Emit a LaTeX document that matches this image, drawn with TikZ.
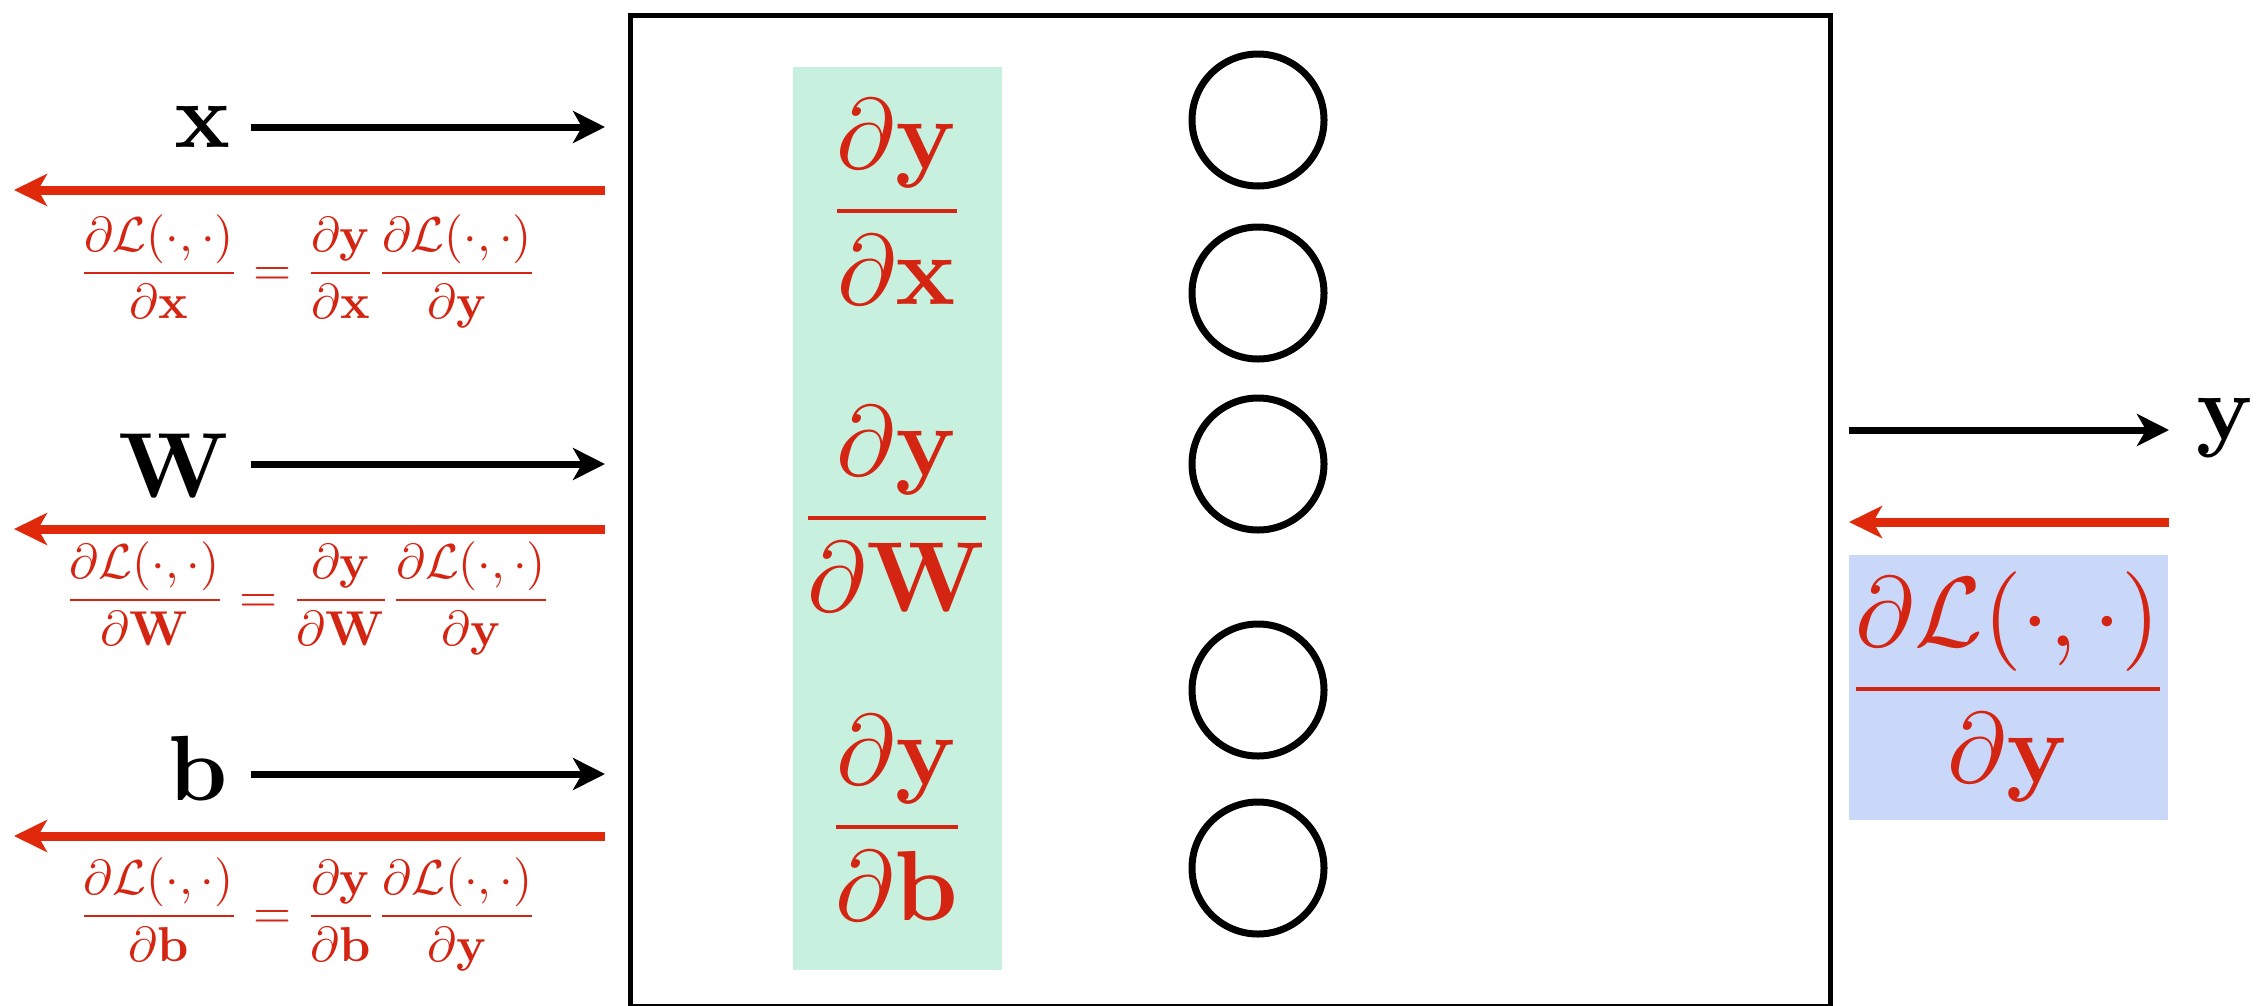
\documentclass[tikz,border=0pt]{standalone}
\usepackage{amsmath}
\usetikzlibrary{arrows.meta}
\definecolor{myred}{RGB}{212,36,18}
\definecolor{arrowred}{RGB}{224,40,10}
\definecolor{mygreen}{RGB}{200,240,223}
\definecolor{myblue}{RGB}{201,215,248}
\begin{document}
\begin{tikzpicture}[x=1bp,y=-1bp,
  lab/.style={inner sep=0pt, scale=9.3},
  bigfrac/.style={inner sep=0pt, text=myred, scale=10.0},
  smallfrac/.style={inner sep=0pt, text=myred, scale=4.92},
  fwd/.style={line width=7bp, -{Stealth[length=32bp,width=32bp,inset=9bp]}},
  bwd/.style={draw=arrowred, line width=9bp, -{Stealth[length=33bp,width=32bp,inset=9bp]}},
  neuron/.style={circle, draw, line width=7bp, minimum size=132bp, inner sep=0pt}]
\useasboundingbox (0,0) rectangle (2260,1005);
% layer box
\node[draw, line width=5bp, minimum width=1200bp, minimum height=991bp, anchor=north west, inner sep=0pt] (layer) at (628,13) {};
% shaded panels
\node[fill=mygreen, minimum width=209bp, minimum height=903bp, anchor=north west, inner sep=0pt] (grad) at (793,67) {};
\node[fill=myblue, minimum width=319bp, minimum height=265bp, anchor=north west, inner sep=0pt] (dLdy) at (1849,555) {};
% local gradients
\node[bigfrac, anchor=base] (gx) at (897,236) {$\displaystyle\frac{\partial\mathbf{y}}{\partial\mathbf{x}}$};
\node[bigfrac, anchor=base] (gW) at (897,543) {$\displaystyle\frac{\partial\mathbf{y}}{\partial\mathbf{W}}$};
\node[bigfrac, anchor=base] (gb) at (897,852) {$\displaystyle\frac{\partial\mathbf{y}}{\partial\mathbf{b}}$};
% neurons
\node[neuron] (n1) at (1258,120) {};
\node[neuron] (n2) at (1258,293) {};
\node[neuron] (n3) at (1258,464) {};
\node[neuron] (n4) at (1258,690) {};
\node[neuron] (n5) at (1258,868) {};
% input labels
\node[lab, anchor=base east] (xl) at (233,147) {$\mathbf{x}$};
\node[lab, anchor=base east] (Wl) at (232,497) {$\mathbf{W}$};
\node[lab, anchor=base east] (bl) at (230,800) {$\mathbf{b}$};
\node[lab, anchor=base west] (yl) at (2195,439) {$\mathbf{y}$};
% arrow end points
\coordinate (xin) at (605,127);
\coordinate (Win) at (605,464);
\coordinate (bin) at (605,774);
\coordinate (xrs) at (605,190);
\coordinate (xre) at (14,190);
\coordinate (Wrs) at (605,529);
\coordinate (Wre) at (14,529);
\coordinate (brs) at (605,836);
\coordinate (bre) at (14,836);
\coordinate (ys) at (1849,430);
\coordinate (ye) at (2169,430);
\coordinate (yrs) at (2169,522);
\coordinate (yre) at (1849,522);
% forward arrows
\draw[fwd] (251,0 |- xin) -- (xin);
\draw[fwd] (251,0 |- Win) -- (Win);
\draw[fwd] (251,0 |- bin) -- (bin);
\draw[fwd] (ys) -- (ye);
% backward arrows
\draw[bwd] (xrs) -- (xre);
\draw[bwd] (Wrs) -- (Wre);
\draw[bwd] (brs) -- (bre);
\draw[bwd] (yrs) -- (yre);
% chain rule labels
\node[smallfrac, anchor=base] (ex) at (308,285) {$\displaystyle\frac{\partial\mathcal{L}(\cdot,\cdot)}{\partial\mathbf{x}}=\frac{\partial\mathbf{y}}{\partial\mathbf{x}}\frac{\partial\mathcal{L}(\cdot,\cdot)}{\partial\mathbf{y}}$};
\node[smallfrac, anchor=base] (eW) at (308,612) {$\displaystyle\frac{\partial\mathcal{L}(\cdot,\cdot)}{\partial\mathbf{W}}=\frac{\partial\mathbf{y}}{\partial\mathbf{W}}\frac{\partial\mathcal{L}(\cdot,\cdot)}{\partial\mathbf{y}}$};
\node[smallfrac, anchor=base] (eb) at (308,928) {$\displaystyle\frac{\partial\mathcal{L}(\cdot,\cdot)}{\partial\mathbf{b}}=\frac{\partial\mathbf{y}}{\partial\mathbf{b}}\frac{\partial\mathcal{L}(\cdot,\cdot)}{\partial\mathbf{y}}$};
\node[bigfrac, anchor=base] (ey) at (2008,714) {$\displaystyle\frac{\partial\mathcal{L}(\cdot,\cdot)}{\partial\mathbf{y}}$};
\end{tikzpicture}
\end{document}
